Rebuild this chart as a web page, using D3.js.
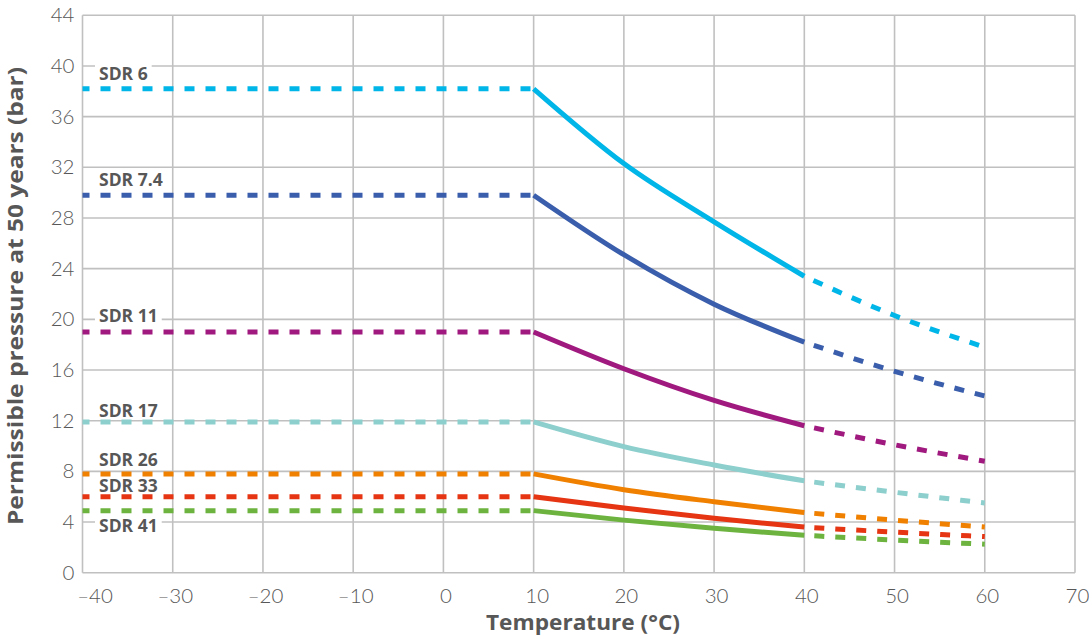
<!DOCTYPE html>
<html>
<head>
<meta charset="utf-8">
<script src="https://cdn.jsdelivr.net/npm/d3@7"></script>
<style>
  html, body { margin: 0; padding: 0; background: #fff; }
  svg { display: block; }
</style>
</head>
<body>
<svg id="chart" width="1089" height="639"></svg>
<script>
// ---- data ----
const temps = [-40, 10, 20, 30, 40, 50, 60];
const seriesNames = ["SDR 6", "SDR 7.4", "SDR 11", "SDR 17", "SDR 26", "SDR 33", "SDR 41"];
const sdr6  = [38.2, 38.2, 32.3, 27.7, 23.4, 20.3, 17.8];
const sdr74 = [29.8, 29.8, 25.1, 21.2, 18.2, 15.9, 13.95];
const sdr11 = [19.0, 19.0, 16.1, 13.6, 11.6, 10.1, 8.8];
const sdr17 = [11.9, 11.9, 9.95, 8.5, 7.25, 6.35, 5.5];
const sdr26 = [7.8, 7.8, 6.55, 5.6, 4.75, 4.15, 3.6];
const sdr33 = [6.0, 6.0, 5.1, 4.3, 3.6, 3.2, 2.85];
const sdr41 = [4.9, 4.9, 4.15, 3.5, 2.95, 2.58, 2.25];
const seriesValues = [sdr6, sdr74, sdr11, sdr17, sdr26, sdr33, sdr41];
const seriesColors = ["#00b5e8", "#3a5eab", "#a0197e", "#8ccfcd", "#f08000", "#e53512", "#6db33f"];
const xTicks = [-40, -30, -20, -10, 0, 10, 20, 30, 40, 50, 60, 70];
const yTicks = [0, 4, 8, 12, 16, 20, 24, 28, 32, 36, 40, 44];
const xTitle = "Temperature (°C)";
const yTitle = "Permissible pressure at 50 years (bar)";

// ---- layout ----
const svg = d3.select("#chart");
const x = d3.scaleLinear().domain([-40, 70]).range([82.5, 1075]);
const y = d3.scaleLinear().domain([0, 44]).range([572.7, 15.3]);
const gridColor = "#c0c0c0";
const textColor = "#575757";
const tickFont = "Lato, 'Open Sans', sans-serif";
const titleFont = "'Open Sans', sans-serif";

// grid
const grid = svg.append("g");
grid.selectAll("line.v").data(xTicks).join("line")
  .attr("x1", d => x(d)).attr("x2", d => x(d))
  .attr("y1", y(0)).attr("y2", y(44))
  .attr("stroke", gridColor).attr("stroke-width", 1.6);
grid.selectAll("line.h").data(yTicks).join("line")
  .attr("y1", d => y(d)).attr("y2", d => y(d))
  .attr("x1", x(-40)).attr("x2", x(70))
  .attr("stroke", gridColor).attr("stroke-width", 1.6);

// axes (labels only)
const xAxis = svg.append("g").attr("transform", `translate(0,${y(0)})`)
  .call(d3.axisBottom(x).tickValues(xTicks).tickSize(0).tickPadding(16)
        .tickFormat(d => d < 0 ? "\u2013" + Math.abs(d) : d));
xAxis.select(".domain").remove();
xAxis.selectAll("text")
  .attr("font-family", tickFont)
  .attr("font-weight", 300).attr("font-size", 20.5).attr("fill", textColor)
  .attr("dx", (d, i) => i === 0 ? 12 : (d > 0 && d < 20 ? 3 : 2));

const yAxis = svg.append("g").attr("transform", `translate(${x(-40)},0)`)
  .call(d3.axisLeft(y).tickValues(yTicks).tickSize(0).tickPadding(8));
yAxis.select(".domain").remove();
yAxis.selectAll("text")
  .attr("font-family", tickFont)
  .attr("font-weight", 300).attr("font-size", 20.5).attr("fill", textColor);

// titles
const xt = svg.append("text").text(xTitle)
  .attr("x", 583).attr("y", 630).attr("text-anchor", "middle")
  .attr("font-family", titleFont).attr("font-weight", 700)
  .attr("font-size", 21).attr("fill", textColor);
const yt = svg.append("text").text(yTitle)
  .attr("transform", `translate(23,296) rotate(-90)`).attr("text-anchor", "middle")
  .attr("font-family", titleFont).attr("font-weight", 700)
  .attr("font-size", 21).attr("fill", textColor);
xt.attr("textLength", 194).attr("lengthAdjust", "spacingAndGlyphs");
yt.attr("textLength", 458).attr("lengthAdjust", "spacingAndGlyphs");

// label positions (baseline offset from flat line)
const labelDy = [-9, -9, -10, -5, -8, -5, 21];
const labelFont = "'Open Sans', sans-serif";

const bgG = svg.append("g");
const linesG = svg.append("g");
const txtG = svg.append("g");

const line = d3.line().x(d => x(d[0])).y(d => y(d[1])).curve(d3.curveMonotoneX);

seriesValues.forEach((vals, i) => {
  const pts = temps.map((t, j) => [t, vals[j]]);
  const col = seriesColors[i];
  const flat = pts.slice(0, 2);
  const solid = pts.slice(1, 5);
  const tail = pts.slice(4, 7);
  linesG.append("path").attr("d", d3.line().x(d => x(d[0])).y(d => y(d[1]))(flat))
    .attr("fill", "none").attr("stroke", col).attr("stroke-width", 5)
    .attr("stroke-dasharray", "10 11").attr("stroke-dashoffset", 3);
  linesG.append("path").attr("d", line(solid))
    .attr("fill", "none").attr("stroke", col).attr("stroke-width", 5);
  linesG.append("path").attr("d", line(tail))
    .attr("fill", "none").attr("stroke", col).attr("stroke-width", 5)
    .attr("stroke-dasharray", "10 11").attr("stroke-dashoffset", 11);
});

seriesNames.forEach((name, i) => {
  const by = y(seriesValues[i][0]) + labelDy[i];
  const t = txtG.append("text").text(name)
    .attr("x", 99).attr("y", by)
    .attr("font-family", labelFont).attr("font-weight", 700)
    .attr("font-size", 17.5).attr("fill", textColor);
  const bb = t.node().getBBox();
  bgG.append("rect")
    .attr("x", bb.x - 4).attr("y", bb.y + 3)
    .attr("width", bb.width + 8).attr("height", bb.height - 6)
    .attr("fill", "#fff");
});
</script>
</body>
</html>
